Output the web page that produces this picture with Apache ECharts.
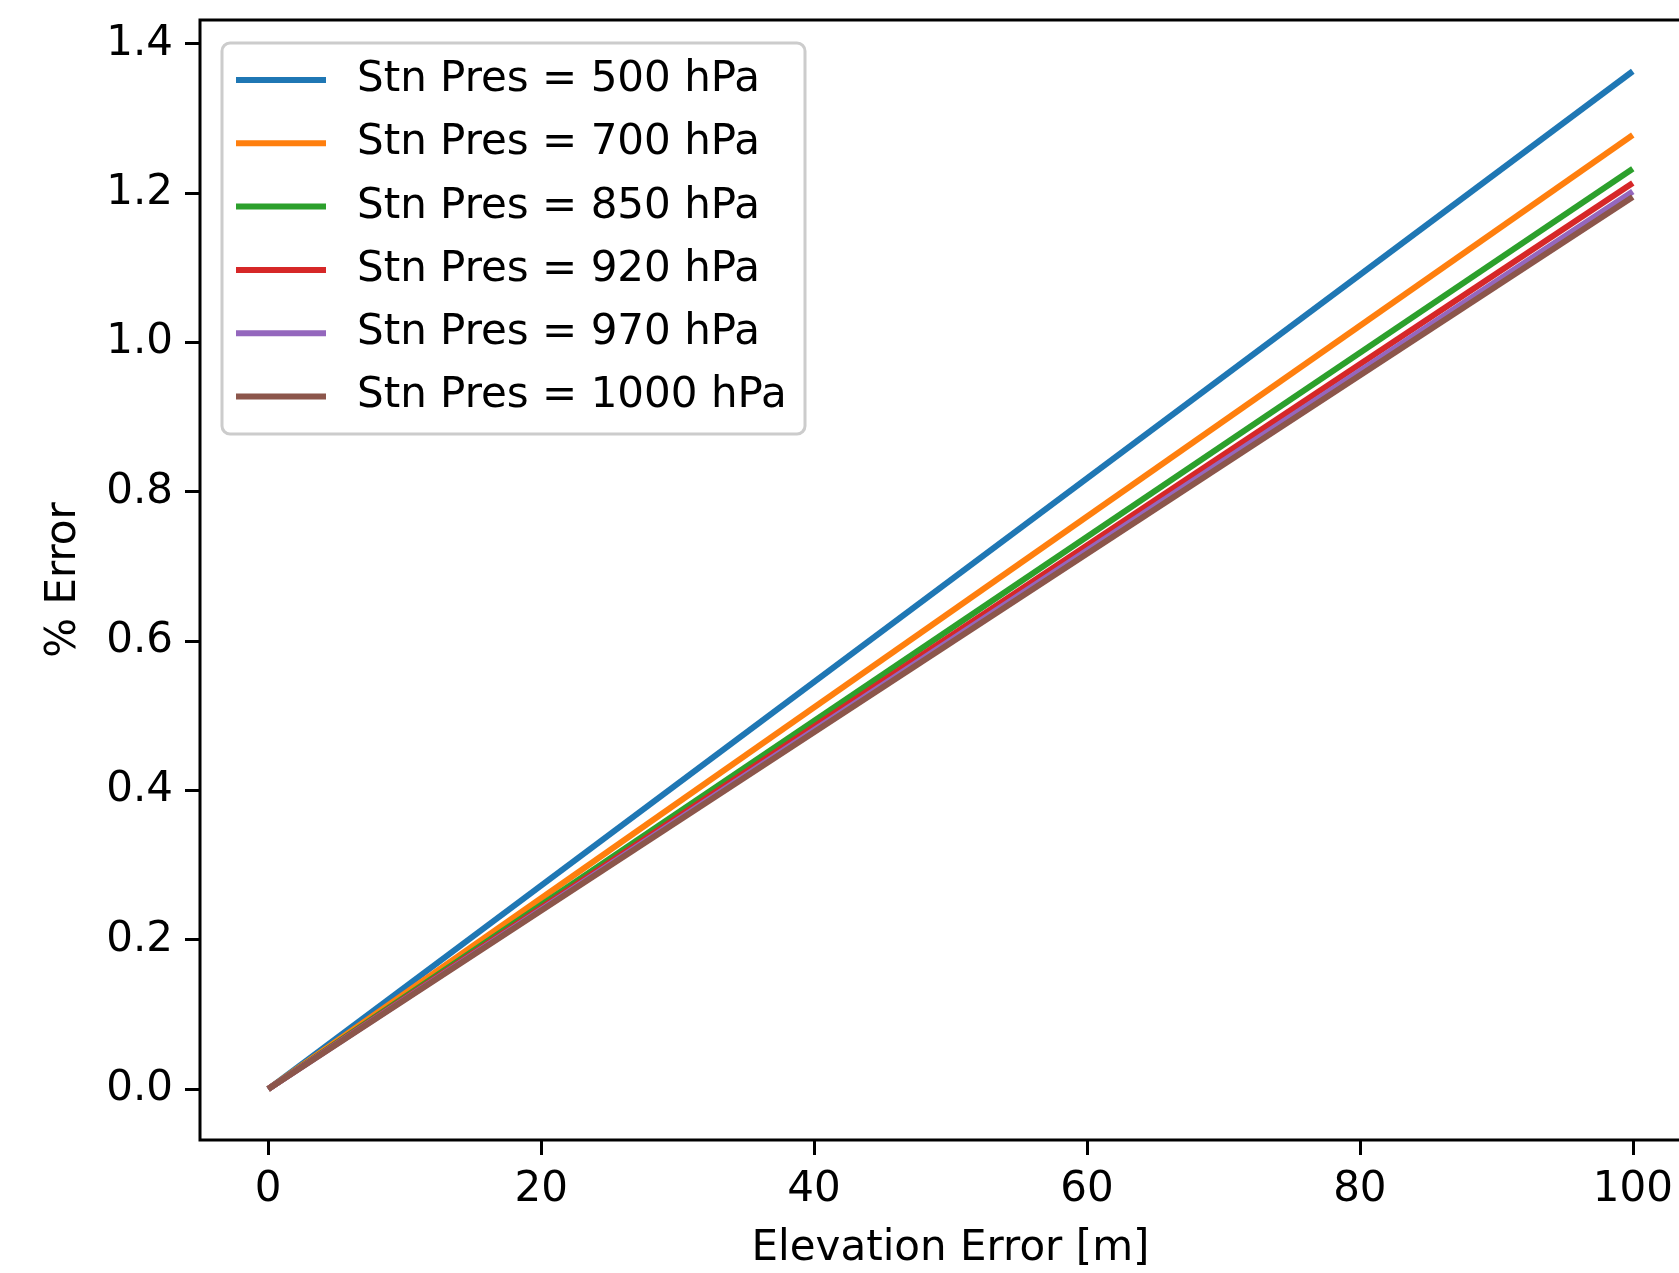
<!DOCTYPE html>
<html>
<head>
<meta charset="utf-8">
<title>% Error vs Elevation Error</title>
<script src="https://cdn.jsdelivr.net/npm/echarts@6/dist/echarts.min.js"></script>
<style>
    html, body { margin: 0; padding: 0; background: #fff; }
    #main { width: 1679px; height: 1273px; }
</style>
</head>
<body>
<div id="main"></div>
<script>

// 数据：横轴高程误差 [m]，各站压对应的 % 误差
var elevation = [0, 100];
var names = [
    'Stn Pres = 500 hPa',
    'Stn Pres = 700 hPa',
    'Stn Pres = 850 hPa',
    'Stn Pres = 920 hPa',
    'Stn Pres = 970 hPa',
    'Stn Pres = 1000 hPa'
];
var err500 = [0, 1.363];
var err700 = [0, 1.2775];
var err850 = [0, 1.2325];
var err920 = [0, 1.2133];
var err970 = [0, 1.2021];
var err1000 = [0, 1.1945];

var xTicks = [0, 20, 40, 60, 80, 100];
var yTicks = [0, 0.2, 0.4, 0.6, 0.8, 1.0, 1.2, 1.4];

var colors = ['#1f77b4', '#ff7f0e', '#2ca02c', '#d62728', '#9467bd', '#8c564b'];
var fontFamily = 'DejaVu Sans';
var fontSize = 42;

function pairs(xs, ys) {
    var out = [];
    for (var i = 0; i < xs.length; i++) out.push([xs[i], ys[i]]);
    return out;
}

var allValues = [err500, err700, err850, err920, err970, err1000];

var series = [];
for (var i = 0; i < names.length; i++) {
    series.push({
        name: names[i],
        type: 'line',
        showSymbol: false,
        symbol: 'none',
        lineStyle: { color: colors[i], width: 6 },
        itemStyle: { color: colors[i] },
        data: pairs(elevation, allValues[i])
    });
}

var chart = echarts.init(document.getElementById('main'));
chart.setOption({
    animation: false,
    backgroundColor: '#fff',
    color: colors,
    grid: {
        left: 200,
        top: 20,
        width: 1501,
        height: 1120,
        outerBoundsMode: 'none',
        containLabel: false,
        show: true,
        borderColor: '#000',
        borderWidth: 3,
        backgroundColor: 'transparent'
    },
    graphic: [{
        type: 'rect',
        z: 3,
        shape: { x: 222, y: 43, width: 583, height: 391, r: 8 },
        style: { fill: 'rgba(255,255,255,0.8)', stroke: '#cccccc', lineWidth: 3 }
    }],
    legend: {
        z: 10,
        orient: 'vertical',
        left: 236,
        top: 59,
        padding: 0,
        itemGap: 21.3,
        itemWidth: 90,
        itemHeight: 6,
        icon: 'rect',
        textStyle: {
            fontFamily: fontFamily,
            fontSize: fontSize,
            lineHeight: 42,
            color: '#000',
            padding: [0, 0, 0, 26]
        },
        data: names
    },
    xAxis: {
        type: 'value',
        min: -5,
        max: 105,
        name: 'Elevation Error [m]',
        nameLocation: 'middle',
        nameGap: 88,
        nameTextStyle: { fontFamily: fontFamily, fontSize: fontSize, color: '#000' },
        axisLine: { show: false, onZero: false },
        axisTick: {
            show: true,
            length: 15,
            lineStyle: { color: '#000', width: 3 },
            customValues: xTicks
        },
        axisLabel: {
            fontFamily: fontFamily,
            fontSize: fontSize,
            color: '#000',
            margin: 29,
            customValues: xTicks,
            formatter: function (v) { return String(Math.round(v)); }
        },
        splitLine: { show: false }
    },
    yAxis: {
        type: 'value',
        min: -0.0682,
        max: 1.4316,
        name: '% Error',
        nameLocation: 'middle',
        nameGap: 115,
        nameRotate: 90,
        nameTextStyle: { fontFamily: fontFamily, fontSize: fontSize, color: '#000' },
        axisLine: { show: false, onZero: false },
        axisTick: {
            show: true,
            length: 15,
            lineStyle: { color: '#000', width: 3 },
            customValues: yTicks
        },
        axisLabel: {
            fontFamily: fontFamily,
            fontSize: fontSize,
            color: '#000',
            margin: 27,
            customValues: yTicks,
            formatter: function (v) { return v.toFixed(1); }
        },
        splitLine: { show: false }
    },
    series: series
});
</script>
</body>
</html>
